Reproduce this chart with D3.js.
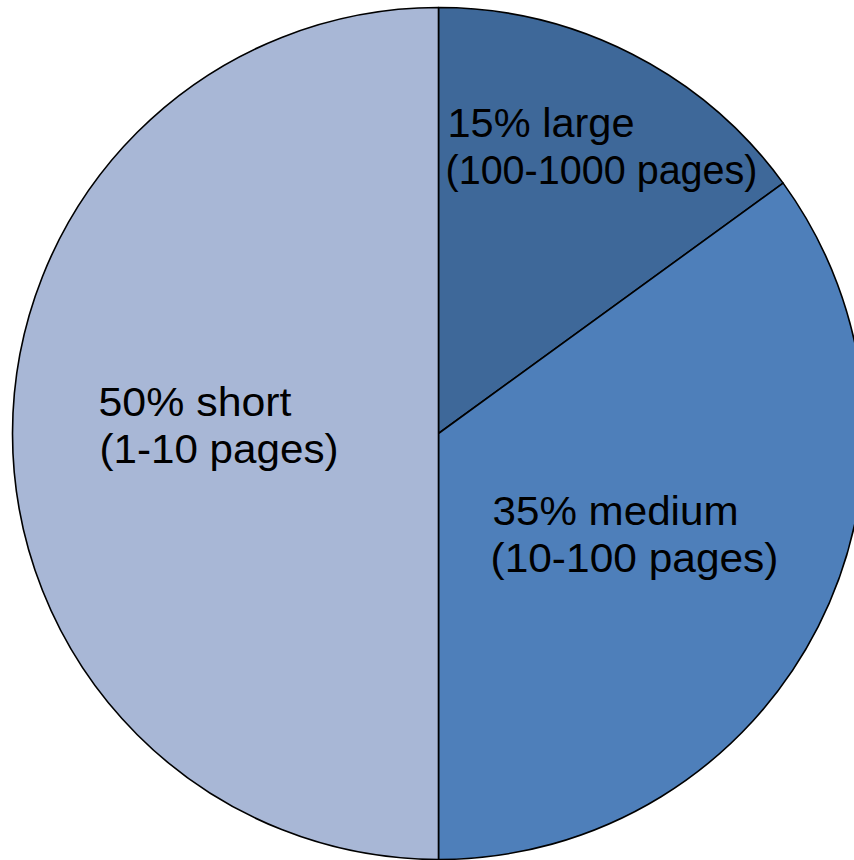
<!DOCTYPE html>
<html>
<head>
<meta charset="utf-8">
<script src="https://cdn.jsdelivr.net/npm/d3@7"></script>
<style>
  html, body { margin: 0; padding: 0; background: #ffffff; }
  svg { display: block; }
</style>
</head>
<body>
<svg id="chart" width="854" height="860"></svg>
<script>
// Share of documents by length
const categories = ["large", "medium", "short"];
const shares = [15, 35, 50];
const ranges = ["(100-1000 pages)", "(10-100 pages)", "(1-10 pages)"];
const colors = ["#3e6899", "#4e7fba", "#a8b7d6"];

const width = 854, height = 860;
const cx = 438.5, cy = 433.5, radius = 426;

const svg = d3.select("#chart");
const g = svg.append("g").attr("transform", `translate(${cx},${cy})`);

const data = categories.map((c, i) => ({ name: c, value: shares[i], range: ranges[i], color: colors[i] }));

const pie = d3.pie().value(d => d.value).sort(null);
const arc = d3.arc().innerRadius(0).outerRadius(radius);

const arcs = pie(data);

g.selectAll("path.slice")
  .data(arcs)
  .join("path")
  .attr("class", "slice")
  .attr("d", arc)
  .attr("fill", d => d.data.color)
  .attr("stroke", "#000")
  .attr("stroke-width", 1.6)
  .attr("stroke-linejoin", "round");

// Label layout relative to the pie centre: baseline of the first line,
// left edge of each line and the set width of each line
const labelLayout = {
  large:  { x: 9,    y: -297, x2: 7,    w1: 187, w2: 312 },
  medium: { x: 54,   y: 91,   x2: 52,   w1: 246, w2: 288 },
  short:  { x: -340, y: -18,  x2: -339, w1: 193, w2: 239 }
};
const lineGap = 47;

const labels = g.selectAll("g.label")
  .data(arcs)
  .join("g")
  .attr("class", "label")
  .attr("font-family", "'Liberation Sans', Arial, Helvetica, sans-serif")
  .attr("font-size", 40)
  .attr("fill", "#000");

labels.append("text")
  .attr("x", d => labelLayout[d.data.name].x)
  .attr("y", d => labelLayout[d.data.name].y)
  .attr("textLength", d => labelLayout[d.data.name].w1)
  .attr("lengthAdjust", "spacingAndGlyphs")
  .text(d => `${d.data.value}% ${d.data.name}`);

labels.append("text")
  .attr("x", d => labelLayout[d.data.name].x2)
  .attr("y", d => labelLayout[d.data.name].y + lineGap)
  .attr("textLength", d => labelLayout[d.data.name].w2)
  .attr("lengthAdjust", "spacingAndGlyphs")
  .text(d => d.data.range);
</script>
</body>
</html>
